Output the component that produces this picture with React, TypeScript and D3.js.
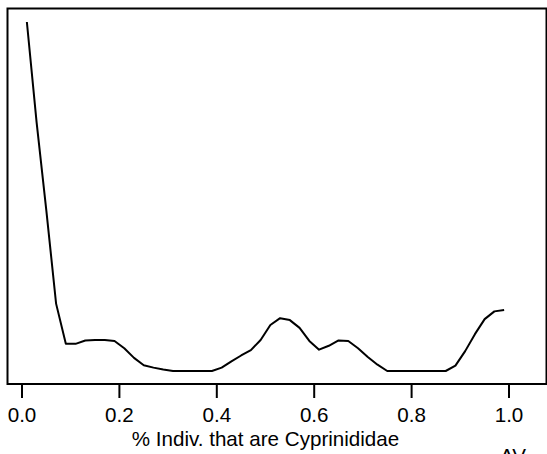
import React, { useEffect, useRef } from 'react';
import * as d3 from 'd3';

// density estimate of % individuals that are Cyprinididae
const xVals: number[] = [
  0.01, 0.03, 0.05, 0.07, 0.09, 0.11, 0.13, 0.15, 0.17, 0.19,
  0.21, 0.23, 0.25, 0.27, 0.29, 0.31, 0.33, 0.35, 0.37, 0.39,
  0.41, 0.43, 0.45, 0.47, 0.49, 0.51, 0.53, 0.55, 0.57, 0.59,
  0.61, 0.63, 0.65, 0.67, 0.69, 0.71, 0.73, 0.75, 0.77, 0.79,
  0.81, 0.83, 0.85, 0.87, 0.89, 0.91, 0.93, 0.95, 0.97, 0.99,
];
const density: number[] = [
  7.2, 5.13, 3.31, 1.39, 0.56, 0.56, 0.63, 0.64, 0.64, 0.62,
  0.47, 0.27, 0.12, 0.07, 0.03, 0, 0, 0, 0, 0,
  0.07, 0.2, 0.32, 0.43, 0.64, 0.95, 1.09, 1.05, 0.89, 0.62,
  0.44, 0.52, 0.63, 0.62, 0.47, 0.29, 0.13, 0, 0, 0,
  0, 0, 0, 0, 0.11, 0.41, 0.76, 1.07, 1.23, 1.26,
];
const xTicks: number[] = [0, 0.2, 0.4, 0.6, 0.8, 1.0];
const xTitle = '% Indiv. that are Cyprinididae';

const W = 547;
const H = 454;

const App: React.FC = () => {
  const svgRef = useRef<SVGSVGElement | null>(null);

  useEffect(() => {
    if (!svgRef.current) return;
    const svg = d3.select(svgRef.current);
    svg.selectAll('*').remove();

    const font = '"Liberation Sans", Arial, sans-serif';
    const fs = 20.6;

    const x = d3.scaleLinear().domain([0, 1]).range([22, 509]);
    const y = d3.scaleLinear().domain([0, 7.2]).range([371, 22]);

    // plot box
    svg.append('rect')
      .attr('x', 7.5).attr('y', 8.5)
      .attr('width', 539).attr('height', 375.5)
      .attr('fill', 'none').attr('stroke', '#000').attr('stroke-width', 2);

    // density curve
    const pts = xVals.map((v, i) => [v, density[i]] as [number, number]);
    const line = d3.line<[number, number]>()
      .x((d) => x(d[0]))
      .y((d) => y(d[1]));
    svg.append('path')
      .attr('d', line(pts) as string)
      .attr('fill', 'none')
      .attr('stroke', '#000')
      .attr('stroke-width', 2)
      .attr('stroke-linejoin', 'round');

    // x axis ticks + labels
    const g = svg.append('g');
    g.selectAll('line')
      .data(xTicks)
      .enter()
      .append('line')
      .attr('x1', (d) => x(d)).attr('x2', (d) => x(d))
      .attr('y1', 384).attr('y2', 398)
      .attr('stroke', '#000').attr('stroke-width', 2);
    g.selectAll('text')
      .data(xTicks)
      .enter()
      .append('text')
      .attr('x', (d) => x(d))
      .attr('y', 422)
      .attr('text-anchor', 'middle')
      .attr('font-family', font)
      .attr('font-size', fs)
      .text((d) => d3.format('.1f')(d));

    svg.append('text')
      .attr('x', 265.5).attr('y', 446)
      .attr('text-anchor', 'middle')
      .attr('font-family', font)
      .attr('font-size', fs)
      .text(xTitle);

    // label at bottom right, cut by the frame as in the original
    svg.append('text')
      .attr('x', 500).attr('y', 463)
      .attr('font-family', font)
      .attr('font-size', fs)
      .text('AV');
  }, []);

  return (
    <div style={{ position: 'fixed', left: 0, top: 0, width: W, height: H, background: '#fff' }}>
      <svg ref={svgRef} width={W} height={H} style={{ display: 'block' }} />
    </div>
  );
};

export default App;
